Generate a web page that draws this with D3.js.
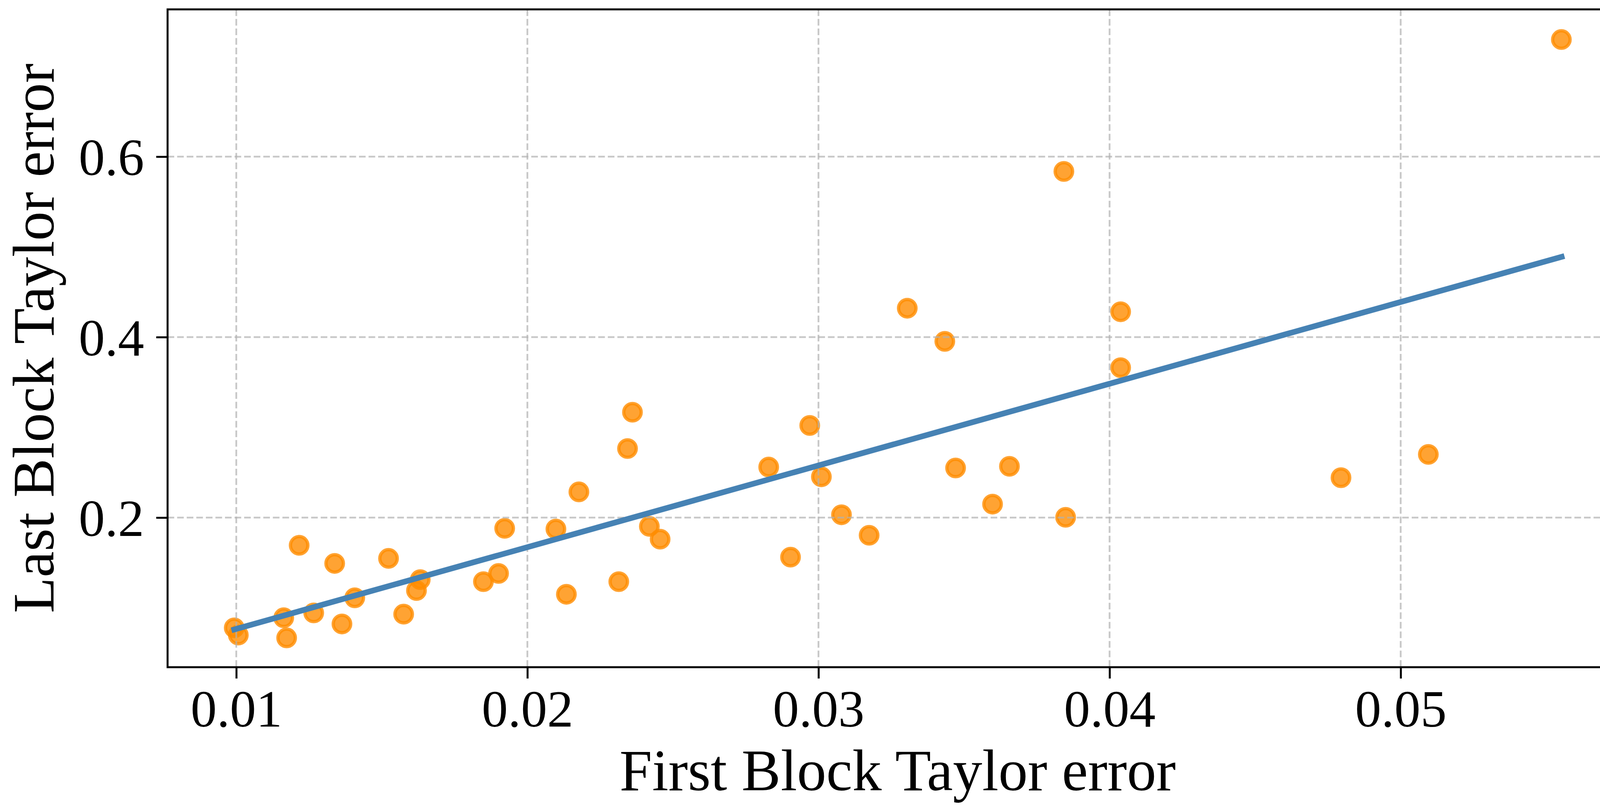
<!DOCTYPE html>
<html>
<head>
<meta charset="utf-8">
<script src="https://cdn.jsdelivr.net/npm/d3@7"></script>
<style>
  body { margin: 0; background: #fff; }
  svg { display: block; }
</style>
</head>
<body>
<div id="chart"></div>
<script>
// values
const firstBlockErr = [0.00993, 0.01007, 0.01163, 0.01173, 0.01216, 0.01266, 0.01338, 0.01363, 0.01407, 0.01523,
  0.01575, 0.01619, 0.01632, 0.01849, 0.01901, 0.01922, 0.02098, 0.02134, 0.02177, 0.02314,
  0.02344, 0.02361, 0.02419, 0.02456, 0.02829, 0.02904, 0.0297, 0.0301, 0.03079, 0.03174,
  0.03305, 0.03434, 0.03471, 0.03598, 0.03656, 0.03843, 0.03849, 0.04038, 0.04038, 0.04795,
  0.05095, 0.05552];
const lastBlockErr = [0.0778, 0.0698, 0.0890, 0.0667, 0.1693, 0.0944, 0.1492, 0.0821, 0.1111, 0.1548,
  0.0930, 0.1192, 0.1313, 0.1290, 0.1381, 0.1881, 0.1873, 0.1150, 0.2285, 0.1290,
  0.2765, 0.3168, 0.1903, 0.1761, 0.2560, 0.1562, 0.3021, 0.2452, 0.2031, 0.1804,
  0.4320, 0.3953, 0.2550, 0.2149, 0.2568, 0.5836, 0.2003, 0.4281, 0.3661, 0.2442,
  0.2700, 0.7298];
const fitX = [0.00993, 0.05553];
const fitY = [0.076, 0.489];
const xTicks = [0.01, 0.02, 0.03, 0.04, 0.05];
const yTicks = [0.2, 0.4, 0.6];

const svgWidth = 4202, svgHeight = 2071;
const plot = {left: 429, right: 4167, top: 24, bottom: 1708};
const font = "'Liberation Serif', 'Times New Roman', serif";

const svg = d3.select("#chart").append("svg")
  .attr("width", svgWidth)
  .attr("height", svgHeight);

const xscale = d3.scaleLinear().domain([0.00764, 0.05780]).range([plot.left, plot.right]);
const yscale = d3.scaleLinear().domain([0.0342, 0.7632]).range([plot.bottom, plot.top]);

// scatter points
const pts = firstBlockErr.map((x, i) => ({x: x, y: lastBlockErr[i]}));
svg.append("g").selectAll("circle")
  .data(pts)
  .enter().append("circle")
  .attr("cx", d => xscale(d.x))
  .attr("cy", d => yscale(d.y))
  .attr("r", 22.3)
  .attr("fill", "#ff8c00")
  .attr("fill-opacity", 0.8)
  .attr("stroke", "#ff8c00")
  .attr("stroke-opacity", 0.8)
  .attr("stroke-width", 8.5);

// grid
const grid = svg.append("g");
grid.selectAll("line.vx").data(xTicks).enter().append("line")
  .attr("x1", d => xscale(d)).attr("x2", d => xscale(d))
  .attr("y1", plot.top).attr("y2", plot.bottom);
grid.selectAll("line.hy").data(yTicks).enter().append("line")
  .attr("x1", plot.left).attr("x2", plot.right)
  .attr("y1", d => yscale(d)).attr("y2", d => yscale(d));
grid.selectAll("line")
  .attr("stroke", "#b0b0b0")
  .attr("stroke-opacity", 0.7)
  .attr("stroke-width", 4.5)
  .attr("stroke-dasharray", "17 7.5");

// fit line
const fit = fitX.map((x, i) => ({x: x, y: fitY[i]}));
svg.append("path")
  .datum(fit)
  .attr("fill", "none")
  .attr("stroke", "#4682b4")
  .attr("stroke-width", 14.6)
  .attr("stroke-linecap", "square")
  .attr("d", d3.line().x(d => xscale(d.x)).y(d => yscale(d.y)));

// axes
const xaxis = d3.axisBottom(xscale).tickValues(xTicks).tickSize(29).tickFormat(d3.format(".2f"));
const yaxis = d3.axisLeft(yscale).tickValues(yTicks).tickSize(29).tickFormat(d3.format(".1f"));

const gx = svg.append("g")
  .attr("transform", "translate(0," + plot.bottom + ")")
  .call(xaxis);
const gy = svg.append("g")
  .attr("transform", "translate(" + plot.left + ",0)")
  .call(yaxis);

[gx, gy].forEach(g => {
  g.select(".domain").remove();
  g.selectAll(".tick line").attr("stroke", "#000").attr("stroke-width", 5);
  g.selectAll(".tick text")
    .attr("fill", "#000")
    .style("font-family", font)
    .style("font-size", "134px");
});
gx.selectAll(".tick text").attr("y", 152).attr("dy", null);
gy.selectAll(".tick text").attr("x", -60).attr("dy", "0.35em");

// frame
svg.append("rect")
  .attr("x", plot.left).attr("y", plot.top)
  .attr("width", plot.right - plot.left)
  .attr("height", plot.bottom - plot.top)
  .attr("fill", "none")
  .attr("stroke", "#000")
  .attr("stroke-width", 5);

// axis titles
svg.append("text")
  .attr("x", (plot.left + plot.right) / 2)
  .attr("y", 2023)
  .attr("text-anchor", "middle")
  .style("font-family", font)
  .style("font-size", "150px")
  .text("First Block Taylor error");

svg.append("text")
  .attr("transform", "translate(137," + ((plot.top + plot.bottom) / 2) + ")rotate(-90)")
  .attr("text-anchor", "middle")
  .style("font-family", font)
  .style("font-size", "150px")
  .text("Last Block Taylor error");
</script>
</body>
</html>
